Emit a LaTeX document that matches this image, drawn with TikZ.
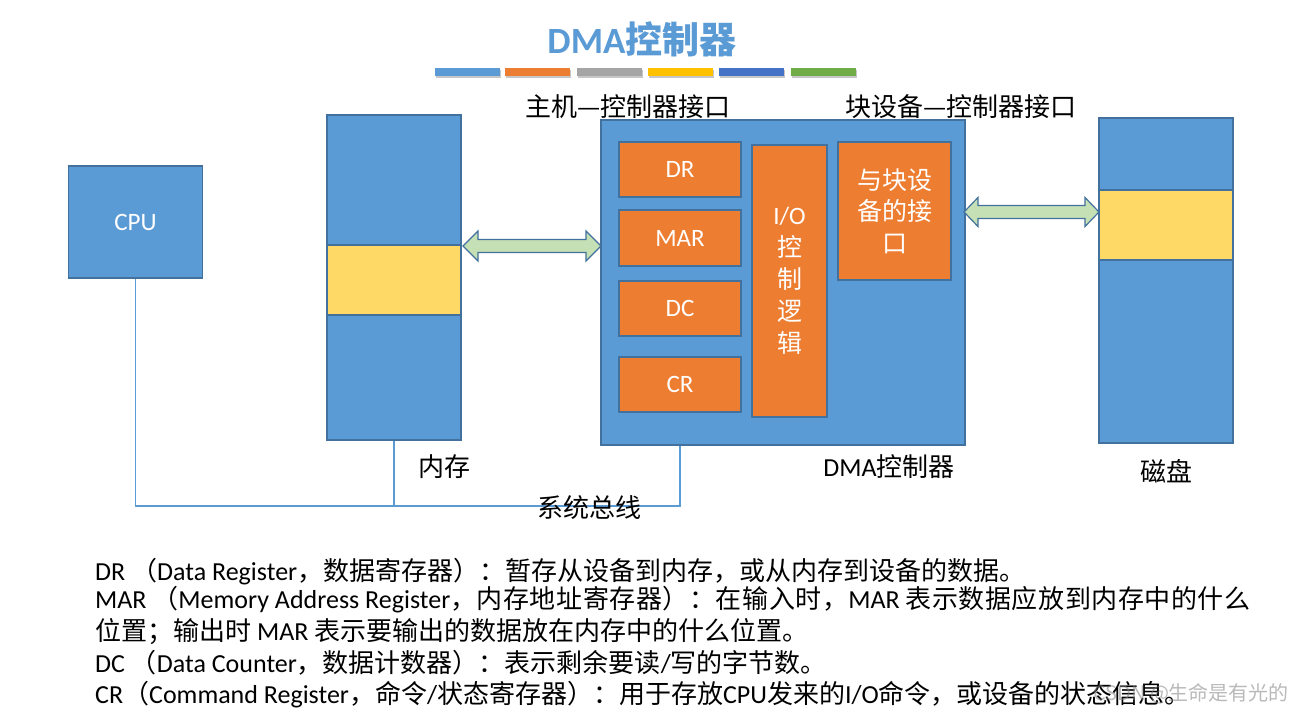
\documentclass[tikz,border=0pt]{standalone}
\usepackage{fontspec}
\setmainfont{Carlito}
\newfontfamily\zhfont{Noto Sans CJK SC}
\newfontfamily\zhwide{Noto Sans CJK SC}[LetterSpace=2.2]
\usetikzlibrary{calc}
\definecolor{boxblue}{HTML}{5B9BD5}
\definecolor{edgeblue}{HTML}{41719C}
\definecolor{boxorange}{HTML}{ED7D31}
\definecolor{bandyellow}{HTML}{FFD966}
\definecolor{arrowgreen}{HTML}{C5E0B4}
\definecolor{bargray}{HTML}{A5A5A5}
\definecolor{bargold}{HTML}{FFC000}
\definecolor{bardark}{HTML}{4472C4}
\definecolor{bargreen}{HTML}{70AD47}
\begin{document}
\begin{tikzpicture}[x=1pt,y=-1pt,
  bluebox/.style={draw=edgeblue, fill=boxblue, line width=1.2pt, inner sep=0pt, text=white, font=\fontsize{25}{30}\selectfont},
  regbox/.style={draw=edgeblue, fill=boxorange, line width=1.2pt, inner sep=0pt, text=white, font=\fontsize{25}{30}\selectfont},
  band/.style={draw=edgeblue, fill=bandyellow, line width=1.2pt, inner sep=0pt},
  lbl/.style={inner sep=0pt, font=\fontsize{26}{30}\selectfont\zhfont},
  note/.style={anchor=base west, inner sep=0pt, font=\fontsize{26}{30}\selectfont},
  bus/.style={draw=boxblue, line width=1.1pt},
  dblarrow/.style={draw=edgeblue, fill=arrowgreen, line width=1.2pt, line join=miter},
  bar/.style={inner sep=0pt, minimum height=8pt, minimum width=65pt},
  barshadow/.style={bar, fill=black, opacity=0.22},
]
\useasboundingbox[fill=white] (0,0) rectangle (1290,715);

% title
\node[inner sep=0pt, text=boxblue, font=\fontsize{37}{40}\selectfont\bfseries] (title) at (642,39) {DMA{\zhfont 控制器}};

% colour bars with shadow
\foreach \cx/\col [count=\i] in {467.5/boxblue, 537.5/boxorange, 609.5/bargray, 680.5/bargold, 751/bardark, 823.5/bargreen}{
  \node[barshadow] (bs\i) at (\cx+1.2,74) {};
  \node[bar, fill=\col] (bar\i) at (\cx,72) {};
}

% CPU
\node[bluebox, minimum width=134pt, minimum height=112pt] (cpu) at (135.5,222) {CPU};

% memory
\node[bluebox, minimum width=134pt, minimum height=325pt] (mem) at (394,277.5) {};
\node[band, minimum width=134pt, minimum height=70pt] (memband) at (394,280) {};

% DMA controller
\node[bluebox, minimum width=364pt, minimum height=325pt] (dma) at (783,282.5) {};
\node[regbox, minimum width=122pt, minimum height=55pt] (dr) at (680,169.5) {DR};
\node[regbox, minimum width=122pt, minimum height=56pt] (mar) at (680,238) {MAR};
\node[regbox, minimum width=122pt, minimum height=55pt] (dc) at (680,308.5) {DC};
\node[regbox, minimum width=122pt, minimum height=55pt] (cr) at (680,384.5) {CR};
\node[regbox, minimum width=75pt, minimum height=272pt, align=center,
      font=\fontsize{25}{32}\selectfont] (io) at (789.5,281)
      {I/O\\{\zhfont 控}\\{\zhfont 制}\\{\zhfont 逻}\\{\zhfont 辑}};
\node[regbox, minimum width=113pt, minimum height=138pt, align=center,
      font=\fontsize{25}{31.5}\selectfont\zhfont] (ifc) at (894.5,211)
      {与块设\\备的接\\口};

% disk
\node[bluebox, minimum width=134pt, minimum height=325pt] (disk) at (1166,280.5) {};
\node[band, minimum width=134pt, minimum height=70pt] (diskband) at (1166,225) {};

% double arrows
\coordinate (la) at (463,246);
\coordinate (ra) at (601,246);
\draw[dblarrow] (la) -- ++(15,-15) -- ++(0,8.5) -- ($(ra)+(-15,-6.5)$) -- ++(0,-8.5) -- (ra)
  -- ++(-15,15) -- ++(0,-8.5) -- ($(la)+(15,6.5)$) -- ++(0,8.5) -- cycle;
\coordinate (lb) at (964,212);
\coordinate (rb) at (1099,212);
\draw[dblarrow] (lb) -- ++(14,-14.5) -- ++(0,8) -- ($(rb)+(-14,-6.5)$) -- ++(0,-8) -- (rb)
  -- ++(-14,14.5) -- ++(0,-8) -- ($(lb)+(14,6.5)$) -- ++(0,8) -- cycle;

% system bus
\coordinate (busend) at (dr.south |- 0,506);
\draw[bus] (cpu.south) |- (busend) -- (busend |- dma.south);
\draw[bus] (mem.south) -- (mem.south |- busend);

% labels
\node[lbl] (hostlbl) at (628,107) {主机—控制器接口};
\node[lbl] (devlbl) at (961,107) {块设备—控制器接口};
\node[lbl] (memlbl) at (444,467) {内存};
\node[lbl, font=\fontsize{26}{30}\selectfont] (dmalbl) at (889,467) {DMA{\zhfont 控制器}};
\node[lbl] (disklbl) at (1166,471) {磁盘};
\node[lbl] (buslbl) at (589,508) {系统总线};

% notes
\node[note] (n1) at (95,580) {DR {\zhfont （}Data Register{\zhfont ，数据寄存器）：暂存从设备到内存，或从内存到设备的数据。}};
\node[note] (n2) at (95,608) {MAR {\zhwide （}Memory Address Register{\zhwide ，内存地址寄存器）：在输入时，}MAR {\zhwide 表示数据应放到内存中的什么}};
\node[note] (n3) at (95,640) {{\zhfont 位置；输出时} MAR {\zhfont 表示要输出的数据放在内存中的什么位置。}};
\node[note] (n4) at (95,672) {DC {\zhfont （}Data Counter{\zhfont ，数据计数器）：表示剩余要读}/{\zhfont 写的字节数。}};
\node[note] (n5) at (95,703) {CR{\zhfont （}Command Register{\zhfont ，命令}/{\zhfont 状态寄存器）：用于存放}CPU{\zhfont 发来的}I/O{\zhfont 命令，或设备的状态信息。}};

% watermark
\node[anchor=base west, inner sep=0pt, text=gray, opacity=0.55, font=\fontsize{20}{24}\selectfont\zhfont] (wm) at (1093,700) {CSDN @生命是有光的};
\end{tikzpicture}
\end{document}
